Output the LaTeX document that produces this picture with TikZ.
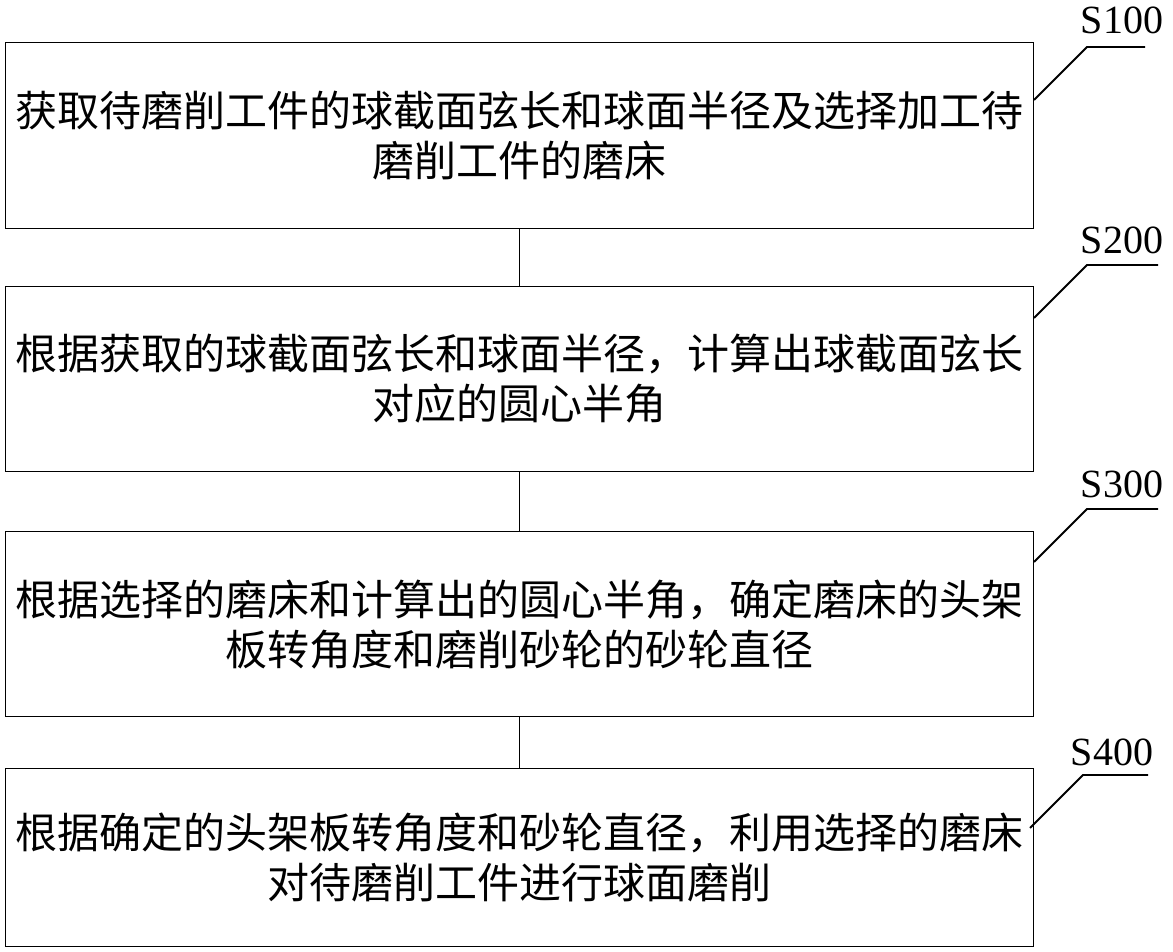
\documentclass[tikz,border=0pt]{standalone}
\usepackage{fontspec}
\setmainfont{Liberation Serif}
\newfontfamily\cjk{Noto Sans CJK SC}
\begin{document}
\begin{tikzpicture}[x=1pt,y=-1pt,
  stepbox/.style={draw,line width=1.2pt,minimum width=1028pt,anchor=north west,align=center,font=\cjk\fontsize{42}{50}\selectfont,inner sep=0pt},
  lbl/.style={font=\fontsize{40}{42}\selectfont},
  lead/.style={line width=1.8pt}]
\useasboundingbox (0,0) rectangle (1173,952);
\node[stepbox,minimum height=186pt] (b1) at (5,42) {获取待磨削工件的球截面弦长和球面半径及选择加工待\\磨削工件的磨床};
\node[stepbox,minimum height=185pt] (b2) at (5,286) {根据获取的球截面弦长和球面半径，计算出球截面弦长\\对应的圆心半角};
\node[stepbox,minimum height=185pt] (b3) at (5,531) {根据选择的磨床和计算出的圆心半角，确定磨床的头架\\板转角度和磨削砂轮的砂轮直径};
\node[stepbox,minimum height=178pt] (b4) at (5,768) {根据确定的头架板转角度和砂轮直径，利用选择的磨床\\对待磨削工件进行球面磨削};
\draw[line width=0.8pt] (b1.south) -- (b2.north);
\draw[line width=0.8pt] (b2.south) -- (b3.north);
\draw[line width=0.8pt] (b3.south) -- (b4.north);
\node[lbl] (l1) at (1122,20) {S100};
\node[lbl] (l2) at (1122,240) {S200};
\node[lbl] (l3) at (1122,484) {S300};
\node[lbl] (l4) at (1112,752) {S400};
\coordinate (c1) at (1034,100); \coordinate (c2) at (1034,318);
\coordinate (c3) at (1034,562); \coordinate (c4) at (1030,828);
\draw[lead] (c1) -- (1087,47) -- (1145,47);
\draw[lead] (c2) -- (1087,265) -- (1158,265);
\draw[lead] (c3) -- (1087,509) -- (1158,509);
\draw[lead] (c4) -- (1083,775) -- (1148,775);
\end{tikzpicture}
\end{document}
